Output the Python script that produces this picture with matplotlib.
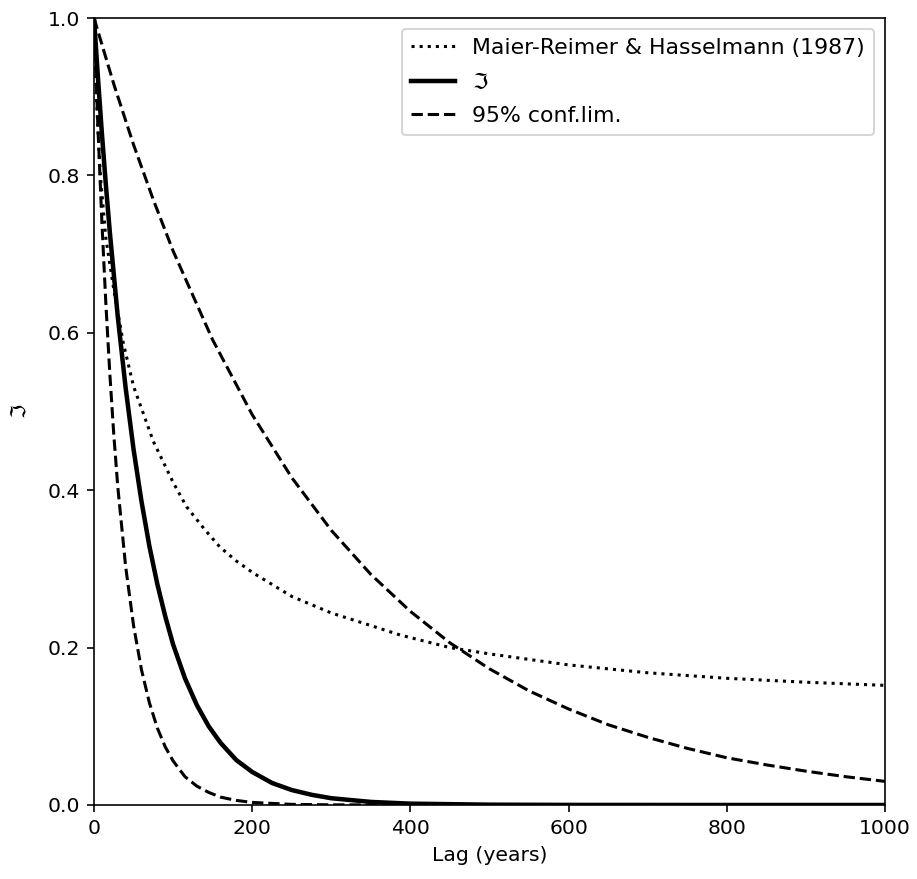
import matplotlib
matplotlib.use("Agg")
import matplotlib.pyplot as plt

# Maier-Reimer & Hasselmann (1987) curve (dotted)
mrh_t = [0, 3, 8, 15, 25, 37, 50, 75, 100, 117, 140, 159, 180, 201, 250, 300, 350, 387,
         450, 500, 600, 700, 800, 900, 1000]
mrh_v = [1.0, 0.90, 0.80, 0.72, 0.655, 0.587, 0.532, 0.462, 0.41, 0.379, 0.35, 0.328, 0.31,
         0.295, 0.265, 0.244, 0.228, 0.216, 0.200, 0.192, 0.178, 0.168, 0.161, 0.156, 0.152]

# Fitted response (solid)
fit_t = [0, 5, 10, 15, 20, 30, 40, 50, 60, 70, 80, 90, 100, 115, 130, 145, 160, 180, 200,
         225, 250, 275, 300, 350, 400, 500, 600, 800, 1000]
fit_v = [1.0, 0.924, 0.853, 0.788, 0.728, 0.621, 0.530, 0.452, 0.386, 0.329, 0.281, 0.240,
         0.204, 0.161, 0.127, 0.100, 0.079, 0.057, 0.042, 0.028, 0.019, 0.013, 0.0086,
         0.0039, 0.0017, 0.0004, 0.0001, 0.0, 0.0]

# Lower 95% confidence limit (dashed)
low_t = [0, 5, 10, 15, 20, 25, 30, 40, 50, 60, 70, 80, 90, 100, 115, 130, 145, 160, 180,
         200, 250, 300, 400, 600, 1000]
low_v = [1.0, 0.860, 0.740, 0.637, 0.548, 0.471, 0.405, 0.303, 0.228, 0.172, 0.130, 0.098,
         0.074, 0.056, 0.036, 0.024, 0.016, 0.010, 0.0058, 0.0033, 0.0008, 0.0002, 0.0,
         0.0, 0.0]

# Upper 95% confidence limit (dashed)
up_t = [0, 25, 50, 75, 100, 150, 200, 250, 300, 350, 400, 450, 500, 550, 600, 650, 700,
        750, 800, 850, 900, 950, 1000]
up_v = [1.0, 0.916, 0.839, 0.769, 0.704, 0.591, 0.496, 0.416, 0.349, 0.293, 0.246, 0.206,
        0.173, 0.145, 0.122, 0.102, 0.086, 0.072, 0.060, 0.051, 0.043, 0.036, 0.030]

dpi = 147
fig = plt.figure(figsize=(917 / dpi, 879 / dpi), dpi=dpi)
ax = fig.add_axes([94 / 917, 74 / 879, 791 / 917, 787 / 879])

ax.plot(mrh_t, mrh_v, 'k:', lw=1.5, label='Maier-Reimer & Hasselmann (1987)')
ax.plot(fit_t, fit_v, 'k-', lw=2.2, label=r'$\Im$')
ax.plot(low_t, low_v, 'k--', lw=1.5, label='95% conf.lim.')
ax.plot(up_t, up_v, 'k--', lw=1.5)

ax.set_xlim(0, 1000)
ax.set_ylim(0, 1.0)
ax.set_xticks([0, 200, 400, 600, 800, 1000])
ax.set_yticks([0.0, 0.2, 0.4, 0.6, 0.8, 1.0])
ax.set_xlabel('Lag (years)')
ax.set_ylabel(r'$\Im$', labelpad=8)
ax.legend(loc='upper right', fontsize=10.8, labelspacing=0.62)

fig.savefig('out.png', dpi=dpi)
